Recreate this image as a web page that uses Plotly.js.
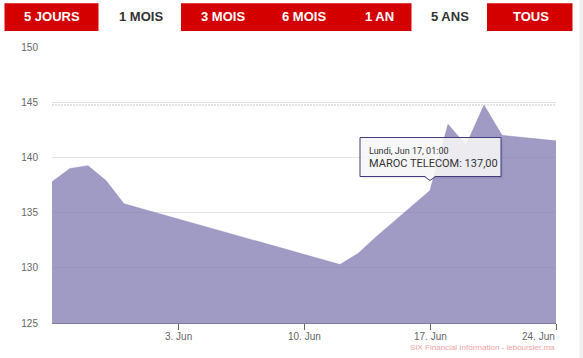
<!DOCTYPE html>
<html>
<head>
<meta charset="utf-8">
<script src="https://cdn.plot.ly/plotly-3.0.1.min.js"></script>
<style>html,body{margin:0;padding:0;background:#fff;}#chart{width:583px;height:358px;}</style>
</head>
<body>
<div id="chart"></div>
<script>
// ---- data ----
const dates = ['2024-05-27','2024-05-28','2024-05-29','2024-05-30','2024-05-31','2024-06-12','2024-06-13','2024-06-14','2024-06-17','2024-06-18','2024-06-19','2024-06-20','2024-06-21','2024-06-24'];
const prices = [137.8, 139.0, 139.25, 137.9, 135.8, 130.3, 131.3, 132.8, 137.0, 143.0, 141.1, 144.75, 142.0, 141.5];
const seriesName = 'MAROC TELECOM';
const xTickVals = ['2024-06-03','2024-06-10','2024-06-17','2024-06-24'];
const xTickText = ['3. Jun','10. Jun','17. Jun','24. Jun'];
const yTickVals = [125,130,135,140,145,150];
const buttonLabels = ['5 JOURS','1 MOIS','3 MOIS','6 MOIS','1 AN','5 ANS','TOUS'];
const buttonActive = [true,false,true,true,true,false,true];
const hoverDate = '2024-06-17';
const hoverHeader = 'Lundi, Jun 17, 01:00';
const credit = 'SIX Financial Information - leboursier.ma';

// ---- layout helpers (pixel -> paper) ----
const W = 583, H = 358, ML = 52, MR = 27, MT = 47, MB = 35;
const PW = W - ML - MR, PH = H - MT - MB;
const px = v => (v - ML) / PW;
const py = v => (H - MB - v) / PH;

const RED = '#d40000';
const btnBox = [[4.5,98.5],[98.5,181],[181,263],[263,345],[345,411.5],[411.5,487],[487,572.5]];
const btnText = [51.5,140.5,222.5,304,379,450,531];

const shapes = [];
const annotations = [];

// range selector buttons
buttonLabels.forEach((lab, i) => {
  if (buttonActive[i]) {
    shapes.push({type:'rect', xref:'paper', yref:'paper', x0:px(btnBox[i][0]), x1:px(btnBox[i][1]), y0:py(31), y1:py(3.3), fillcolor:RED, line:{width:0}, layer:'above'});
  }
  annotations.push({xref:'paper', yref:'paper', x:px(btnText[i]), y:py(17), xanchor:'center', yanchor:'middle', showarrow:false, text:'<b>'+lab+'</b>', font:{family:'Liberation Sans, Arial, sans-serif', size:13, color: buttonActive[i] ? '#ffffff' : '#333333'}});
});

// x tick labels (last one kept inside the plot, as in the source chart)
xTickVals.forEach((v, i) => {
  const last = i === xTickVals.length - 1;
  annotations.push({xref:'x', yref:'paper', x:v, y:py(336.3), xanchor: last ? 'right' : 'center', yanchor:'middle', xshift: last ? 1 : 0, showarrow:false, text:xTickText[i], font:{family:'Liberation Sans, Arial, sans-serif', size:10, color:'#666666'}});
});

// max line
const maxVal = Math.max(...prices);
shapes.push({type:'line', xref:'paper', yref:'y', x0:0, x1:1, y0:maxVal, y1:maxVal, line:{color:'#c8c8c8', width:1, dash:'2px,1px'}, layer:'above'});

// right grey strip
shapes.push({type:'rect', xref:'paper', yref:'paper', x0:px(579.5), x1:px(590), y0:-0.3, y1:1.3, fillcolor:'#efefef', line:{width:0}, layer:'above'});

// tooltip
const hi = dates.indexOf(hoverDate);
const hx = dates[hi], hy = prices[hi];
const tipBorder = '#3f3a78';
shapes.push({type:'rect', xref:'x', yref:'y', xsizemode:'pixel', ysizemode:'pixel', xanchor:hx, yanchor:hy, x0:-68, x1:73, y0:12, y1:51, fillcolor:'rgba(0,0,0,0.06)', line:{width:0}, layer:'above'});
shapes.push({type:'rect', xref:'x', yref:'y', xsizemode:'pixel', ysizemode:'pixel', xanchor:hx, yanchor:hy, x0:-70, x1:71, y0:14, y1:53, fillcolor:'rgba(247,247,247,0.88)', line:{color:tipBorder, width:1}, layer:'above'});
shapes.push({type:'path', xref:'x', yref:'y', xsizemode:'pixel', ysizemode:'pixel', xanchor:hx, yanchor:hy, path:'M -5.5 14.8 L 0 10 L 5.5 14.8 Z', fillcolor:'rgb(247,247,247)', line:{width:0}, layer:'above'});
shapes.push({type:'path', xref:'x', yref:'y', xsizemode:'pixel', ysizemode:'pixel', xanchor:hx, yanchor:hy, path:'M -5.5 14 L 0 10 L 5.5 14', line:{color:tipBorder, width:1}, layer:'above'});
annotations.push({xref:'x', yref:'y', x:hx, y:hy, xanchor:'left', yanchor:'middle', xshift:-63.5, yshift:39.5, showarrow:false, text:hoverHeader, font:{family:'Roboto, sans-serif', size:9, color:'#333333'}});
annotations.push({xref:'x', yref:'y', x:hx, y:hy, xanchor:'left', yanchor:'middle', xshift:-63.5, yshift:26.7, showarrow:false, text:seriesName + ': ' + hy.toFixed(2).replace('.', ','), font:{family:'Roboto, sans-serif', size:11, color:'#333333'}});

// credit
annotations.push({xref:'paper', yref:'paper', x:px(556.5), y:py(347), xanchor:'right', yanchor:'middle', showarrow:false, text:credit, font:{family:'Liberation Sans, Arial, sans-serif', size:8, color:'#f2a3a3'}});

const trace = {
  x: dates, y: prices, type:'scatter', mode:'lines', fill:'tozeroy',
  fillcolor:'rgba(127,121,177,0.75)', line:{color:'rgba(127,121,177,0.75)', width:0.5},
  hoverinfo:'skip', showlegend:false
};

const layout = {
  width: W, height: H,
  margin:{l:ML, r:MR, t:MT, b:MB, pad:0},
  paper_bgcolor:'#ffffff', plot_bgcolor:'#ffffff',
  showlegend:false,
  xaxis:{
    type:'date', range:[dates[0], dates[dates.length-1]],
    tickmode:'array', tickvals:xTickVals, ticktext:xTickText, showticklabels:false,
    ticks:'outside', ticklen:6, tickwidth:1, tickcolor:'#666666',
    showgrid:false, zeroline:false, showline:true, linecolor:'#7f7c9e', linewidth:1,
    fixedrange:true
  },
  yaxis:{
    range:[125,150], tickmode:'array', tickvals:yTickVals,
    ticks:'outside', ticklen:11, tickcolor:'rgba(0,0,0,0)',
    showgrid:true, gridcolor:'#e3e3e3', gridwidth:1, zeroline:false, showline:false,
    tickfont:{family:'Liberation Sans, Arial, sans-serif', size:10, color:'#666666'},
    fixedrange:true
  },
  shapes: shapes,
  annotations: annotations
};

Plotly.newPlot('chart', [trace], layout, {displayModeBar:false, staticPlot:true});
</script>
</body>
</html>
